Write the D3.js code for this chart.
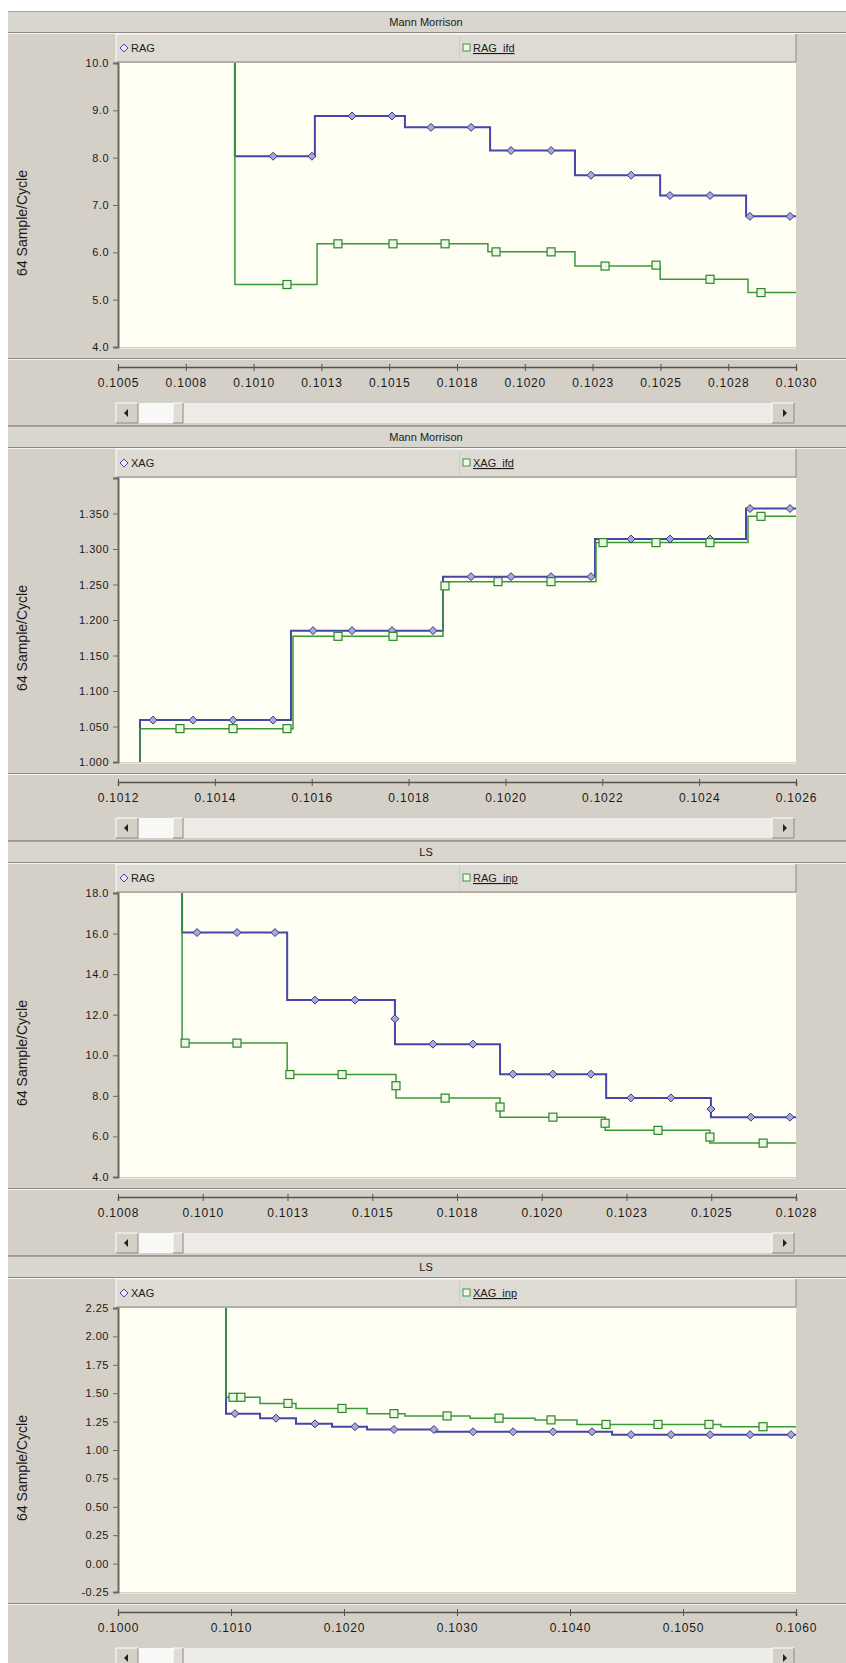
<!DOCTYPE html>
<html>
<head>
<meta charset="utf-8">
<script src="https://cdn.jsdelivr.net/npm/d3@7"></script>
<style>
  body { margin: 0; background: #fff; }
  text { font-family: "Liberation Sans", Arial, sans-serif; fill: #1a1a1a; }
</style>
</head>
<body>
<div id="chart"></div>
<script>
// Titles and legend names
const titles = ["Mann Morrison", "Mann Morrison", "LS", "LS"];
const seriesNames = [["RAG", "RAG_ifd"], ["XAG", "XAG_ifd"], ["RAG", "RAG_inp"], ["XAG", "XAG_inp"]];
const yLabel = "64 Sample/Cycle";

// Panel 1 - Mann Morrison, RAG
const p1XTicks = [0.1005, 0.10075, 0.1010, 0.10125, 0.1015, 0.10175, 0.1020, 0.10225, 0.1025, 0.10275, 0.1030];
const p1XLabels = ["0.1005", "0.1008", "0.1010", "0.1013", "0.1015", "0.1018", "0.1020", "0.1023", "0.1025", "0.1028", "0.1030"];
const p1YTicks = [4, 5, 6, 7, 8, 9, 10];
const p1Blue = [[0.100931, 12], [0.100931, 8.03], [0.101226, 8.88], [0.101558, 8.64], [0.101872, 8.15],
  [0.102185, 7.63], [0.102499, 7.2], [0.102816, 6.76], [0.1030, 6.76]];
const p1BlueMarks = [[0.101072, 8.03], [0.101215, 8.03], [0.101363, 8.88], [0.101510, 8.88], [0.101654, 8.64],
  [0.101802, 8.64], [0.101949, 8.15], [0.102097, 8.15], [0.102244, 7.63], [0.102392, 7.63],
  [0.102535, 7.2], [0.102683, 7.2], [0.102830, 6.76], [0.102978, 6.76]];
const p1Green = [[0.100931, 12], [0.100931, 5.32], [0.101234, 6.18], [0.101864, 6.01], [0.102185, 5.71],
  [0.102499, 5.43], [0.102823, 5.15], [0.1030, 5.15]];
const p1GreenMarks = [[0.101123, 5.32], [0.101311, 6.18], [0.101514, 6.18], [0.101706, 6.18], [0.101894, 6.01],
  [0.102097, 6.01], [0.102296, 5.71], [0.102484, 5.73], [0.102683, 5.43], [0.102871, 5.15]];

// Panel 2 - Mann Morrison, XAG
const p2XTicks = [0.1012, 0.1014, 0.1016, 0.1018, 0.1020, 0.1022, 0.1024, 0.1026];
const p2XLabels = ["0.1012", "0.1014", "0.1016", "0.1018", "0.1020", "0.1022", "0.1024", "0.1026"];
const p2YTicks = [1.00, 1.05, 1.10, 1.15, 1.20, 1.25, 1.30, 1.35];
const p2Blue = [[0.1012454, 0.9], [0.1012454, 1.059], [0.1015572, 1.185], [0.1018711, 1.261],
  [0.1021850, 1.314], [0.1024968, 1.357], [0.1026, 1.357]];
const p2BlueMarks = [[0.1012723, 1.059], [0.1013549, 1.059], [0.1014375, 1.059], [0.1015201, 1.059],
  [0.1016027, 1.185], [0.1016832, 1.185], [0.1017658, 1.185], [0.1018504, 1.185],
  [0.1019289, 1.261], [0.1020115, 1.261], [0.1020941, 1.261], [0.1021767, 1.261],
  [0.1022593, 1.314], [0.1023398, 1.314], [0.1024224, 1.314], [0.1025050, 1.357], [0.1025876, 1.357]];
const p2Green = [[0.1012454, 0.9], [0.1012454, 1.047], [0.1015614, 1.177], [0.1018711, 1.254],
  [0.1021870, 1.309], [0.1025009, 1.346], [0.1026, 1.346]];
const p2GreenMarks = [[0.1013280, 1.047], [0.1014375, 1.047], [0.1015490, 1.047], [0.1016543, 1.177],
  [0.1017679, 1.177], [0.1018752, 1.248], [0.1019847, 1.254], [0.1020941, 1.254], [0.1022015, 1.309],
  [0.1023109, 1.309], [0.1024224, 1.309], [0.1025277, 1.346]];

// Panel 3 - LS, RAG
const p3XTicks = [0.10075, 0.1010, 0.10125, 0.1015, 0.10175, 0.1020, 0.10225, 0.1025, 0.10275];
const p3XLabels = ["0.1008", "0.1010", "0.1013", "0.1015", "0.1018", "0.1020", "0.1023", "0.1025", "0.1028"];
const p3YTicks = [4, 6, 8, 10, 12, 14, 16, 18];
const p3Blue = [[0.100939, 20], [0.100939, 16.05], [0.101249, 12.72], [0.101567, 10.55], [0.101877, 9.07],
  [0.102190, 7.9], [0.102499, 6.95], [0.10275, 6.95]];
const p3BlueMarks = [[0.100983, 16.05], [0.101101, 16.05], [0.101213, 16.05], [0.101331, 12.72], [0.101449, 12.72],
  [0.101567, 11.8], [0.101679, 10.55], [0.101797, 10.55], [0.101915, 9.07], [0.102033, 9.07], [0.102145, 9.07],
  [0.102263, 7.9], [0.102381, 7.9], [0.102499, 7.35], [0.102617, 6.95], [0.102732, 6.95]];
const p3Green = [[0.100939, 20], [0.100939, 10.6], [0.101249, 9.05], [0.101570, 7.89], [0.101877, 6.95],
  [0.102187, 6.3], [0.102496, 5.67], [0.10275, 5.67]];
const p3GreenMarks = [[0.100948, 10.6], [0.101101, 10.6], [0.101257, 9.05], [0.101411, 9.05], [0.101570, 8.5],
  [0.101715, 7.89], [0.101877, 7.45], [0.102033, 6.95], [0.102187, 6.65], [0.102343, 6.3],
  [0.102496, 5.97], [0.102653, 5.67]];

// Panel 4 - LS, XAG
const p4XTicks = [0.1000, 0.1010, 0.1020, 0.1030, 0.1040, 0.1050, 0.1060];
const p4XLabels = ["0.1000", "0.1010", "0.1020", "0.1030", "0.1040", "0.1050", "0.1060"];
const p4YTicks = [-0.25, 0, 0.25, 0.5, 0.75, 1.0, 1.25, 1.5, 1.75, 2.0, 2.25];
const p4Blue = [[0.100956, 3], [0.100956, 1.32], [0.101257, 1.28], [0.101575, 1.23], [0.101894, 1.205],
  [0.102204, 1.18], [0.102814, 1.16], [0.104372, 1.135], [0.1060, 1.135]];
const p4BlueMarks = [[0.101035, 1.32], [0.101398, 1.28], [0.101743, 1.23], [0.102097, 1.205], [0.102442, 1.18],
  [0.102796, 1.18], [0.103142, 1.16], [0.103496, 1.16], [0.103850, 1.16], [0.104195, 1.16],
  [0.104540, 1.135], [0.104894, 1.135], [0.105239, 1.135], [0.105593, 1.135], [0.105956, 1.135]];
const p4Green = [[0.100956, 3], [0.100956, 1.464], [0.101257, 1.41], [0.101575, 1.366], [0.102204, 1.32],
  [0.102540, 1.30], [0.103115, 1.28], [0.103690, 1.265], [0.104062, 1.225], [0.105336, 1.205], [0.1060, 1.205]];
const p4GreenMarks = [[0.101018, 1.464], [0.101088, 1.464], [0.101504, 1.41], [0.101982, 1.366], [0.102442, 1.32],
  [0.102912, 1.30], [0.103372, 1.28], [0.103832, 1.265], [0.104319, 1.225], [0.104779, 1.225],
  [0.105230, 1.225], [0.105708, 1.205]];

const panels = [
  { xTicks: p1XTicks, xLabels: p1XLabels, yTicks: p1YTicks, yDomain: [4, 10], yFmt: ".1f",
    blue: p1Blue, blueMarks: p1BlueMarks, green: p1Green, greenMarks: p1GreenMarks },
  { xTicks: p2XTicks, xLabels: p2XLabels, yTicks: p2YTicks, yDomain: [1.0, 1.4], yFmt: ".3f",
    blue: p2Blue, blueMarks: p2BlueMarks, green: p2Green, greenMarks: p2GreenMarks },
  { xTicks: p3XTicks, xLabels: p3XLabels, yTicks: p3YTicks, yDomain: [4, 18], yFmt: ".1f",
    blue: p3Blue, blueMarks: p3BlueMarks, green: p3Green, greenMarks: p3GreenMarks },
  { xTicks: p4XTicks, xLabels: p4XLabels, yTicks: p4YTicks, yDomain: [-0.25, 2.25], yFmt: ".2f",
    blue: p4Blue, blueMarks: p4BlueMarks, green: p4Green, greenMarks: p4GreenMarks }
];

const W = 846, H = 1663;
const GREY = '#d4d0c8', DARK = '#8c8880', LIGHT = '#f4f2ee';
const BLUE = '#4646aa', GREEN = '#3a9a3a';
const plotL = 118, plotR = 796;

const svg = d3.select('#chart').append('svg')
  .attr('width', W).attr('height', H);
svg.append('rect').attr('width', W).attr('height', H).attr('fill', '#fff');

function raised(g, x, y, w, h, fill) {
  g.append('rect').attr('x', x).attr('y', y).attr('width', w).attr('height', h).attr('fill', fill);
  g.append('path').attr('d', `M${x},${y + h}V${y}H${x + w}`).attr('stroke', '#fff').attr('fill', 'none');
  g.append('path').attr('d', `M${x},${y + h}H${x + w}V${y}`).attr('stroke', DARK).attr('fill', 'none');
}

panels.forEach((p, i) => {
  const T = 11 + i * 415;
  const g = svg.append('g');
  const top = T + 52, bottom = T + 336;

  // panel background and title band
  g.append('rect').attr('x', 8).attr('y', T).attr('width', W - 8).attr('height', 414).attr('fill', GREY);
  g.append('rect').attr('x', 8).attr('y', T).attr('width', W - 8).attr('height', 21).attr('fill', '#d9d6cf');
  g.append('line').attr('x1', 8).attr('x2', W).attr('y1', T + 0.5).attr('y2', T + 0.5).attr('stroke', '#a8a49c');
  g.append('line').attr('x1', 8).attr('x2', W).attr('y1', T + 21.5).attr('y2', T + 21.5).attr('stroke', DARK);
  g.append('line').attr('x1', 8).attr('x2', W).attr('y1', T + 22.5).attr('y2', T + 22.5).attr('stroke', LIGHT);
  g.append('text').attr('x', 426).attr('y', T + 15).attr('text-anchor', 'middle')
    .style('font-size', '11px').text(titles[i]);

  // legend bar
  raised(g, plotL - 2, T + 23, plotR - plotL + 2, 28, '#dedbd4');
  g.append('line').attr('x1', 459.5).attr('x2', 459.5).attr('y1', T + 25).attr('y2', T + 49)
    .attr('stroke', '#b8d8b8');
  g.append('path').attr('d', 'M0,-4L4,0L0,4L-4,0Z').attr('transform', `translate(124,${T + 37})`)
    .attr('fill', '#e8e8f4').attr('stroke', BLUE);
  g.append('text').attr('x', 131).attr('y', T + 41).style('font-size', '11px').text(seriesNames[i][0]);
  g.append('rect').attr('x', 463).attr('y', T + 33).attr('width', 7).attr('height', 7)
    .attr('fill', '#f0f8ea').attr('stroke', GREEN);
  g.append('text').attr('x', 473).attr('y', T + 41).style('font-size', '11px')
    .attr('text-decoration', 'underline').text(seriesNames[i][1]);

  // plot area
  g.append('rect').attr('x', plotL).attr('y', top).attr('width', plotR - plotL).attr('height', bottom - top)
    .attr('fill', '#fefef3');
  g.append('line').attr('x1', plotL).attr('x2', plotR).attr('y1', bottom + 1.5).attr('y2', bottom + 1.5)
    .attr('stroke', '#ebe9e3');

  const x = d3.scaleLinear().domain([p.xTicks[0], p.xTicks[p.xTicks.length - 1]]).range([plotL, plotR]);
  const y = d3.scaleLinear().domain(p.yDomain).range([bottom, top]);
  const fmt = d3.format(p.yFmt);

  // y axis (plain hyphen for negatives, like the original)
  const ya = g.append('g').attr('transform', `translate(${plotL},0)`)
    .call(d3.axisLeft(y).tickValues(p.yTicks).tickFormat(d => fmt(d).replace('\u2212', '-'))
      .tickSize(5).tickPadding(4));
  ya.select('.domain').attr('stroke', '#6c6860').attr('stroke-width', 2);
  ya.selectAll('.tick line').attr('stroke', '#6c6860');
  ya.selectAll('.tick text').style('font-size', '11px').style('font-family', '"Liberation Sans", Arial, sans-serif')
    .attr('fill', '#1a1a1a').style('letter-spacing', '0.5px');

  g.append('text').attr('transform', `translate(27,${T + 212}) rotate(-90)`)
    .attr('text-anchor', 'middle').style('font-size', '14px').attr('fill', '#333').text(yLabel);

  // separator above x axis
  g.append('line').attr('x1', 8).attr('x2', W).attr('y1', T + 347.5).attr('y2', T + 347.5).attr('stroke', DARK);
  g.append('line').attr('x1', 8).attr('x2', W).attr('y1', T + 348.5).attr('y2', T + 348.5).attr('stroke', LIGHT);

  // x axis
  const xa = g.append('g').attr('transform', `translate(0,${T + 356})`)
    .call(d3.axisBottom(x).tickValues(p.xTicks).tickFormat((d, j) => p.xLabels[j]).tickSize(4).tickPadding(7));
  xa.select('.domain').attr('stroke', '#55524c').attr('stroke-width', 1.5);
  xa.selectAll('.tick line').attr('stroke', '#55524c').attr('y1', -3);
  xa.selectAll('.tick text').style('font-size', '12px').style('font-family', '"Liberation Sans", Arial, sans-serif')
    .attr('fill', '#1a1a1a').style('letter-spacing', '0.8px');

  // scrollbar
  const sy = T + 392;
  g.append('rect').attr('x', 138).attr('y', sy).attr('width', 634).attr('height', 20).attr('fill', '#ecebe7');
  g.append('rect').attr('x', 138).attr('y', sy).attr('width', 35).attr('height', 20).attr('fill', '#f8f8f6');
  raised(g, plotL - 2, sy, 22, 20, GREY);
  raised(g, 772, sy, 22, 20, GREY);
  raised(g, 173, sy, 10, 20, '#e0ddd6');
  g.append('path').attr('d', `M${124},${sy + 10}l4,-4v8z`).attr('fill', '#222');
  g.append('path').attr('d', `M${787},${sy + 10}l-4,-4v8z`).attr('fill', '#222');
  g.append('line').attr('x1', 8).attr('x2', W).attr('y1', T + 414.5).attr('y2', T + 414.5).attr('stroke', '#9c9890');

  // series
  const clipId = 'clip' + i;
  g.append('clipPath').attr('id', clipId).append('rect')
    .attr('x', plotL).attr('y', top).attr('width', plotR - plotL).attr('height', bottom - top);
  const line = d3.line().x(d => x(d[0])).y(d => y(d[1])).curve(d3.curveStepAfter);
  const plot = g.append('g').attr('clip-path', `url(#${clipId})`);

  plot.append('path').datum(p.blue).attr('d', line).attr('fill', 'none')
    .attr('stroke', BLUE).attr('stroke-width', 2);
  plot.append('path').datum(p.green).attr('d', line).attr('fill', 'none')
    .attr('stroke', GREEN).attr('stroke-width', 1.5);

  plot.selectAll('.bm').data(p.blueMarks).enter().append('path')
    .attr('class', 'bm')
    .attr('d', 'M0,-4L4,0L0,4L-4,0Z')
    .attr('transform', d => `translate(${x(d[0])},${y(d[1])})`)
    .attr('fill', '#a8a8d8').attr('stroke', '#33338a').attr('stroke-width', 1);

  plot.selectAll('.gm').data(p.greenMarks).enter().append('rect')
    .attr('class', 'gm')
    .attr('x', d => x(d[0]) - 4).attr('y', d => y(d[1]) - 4)
    .attr('width', 8).attr('height', 8)
    .attr('fill', '#eef6e4').attr('stroke', '#2c862c').attr('stroke-width', 1.2);
});
</script>
</body>
</html>
